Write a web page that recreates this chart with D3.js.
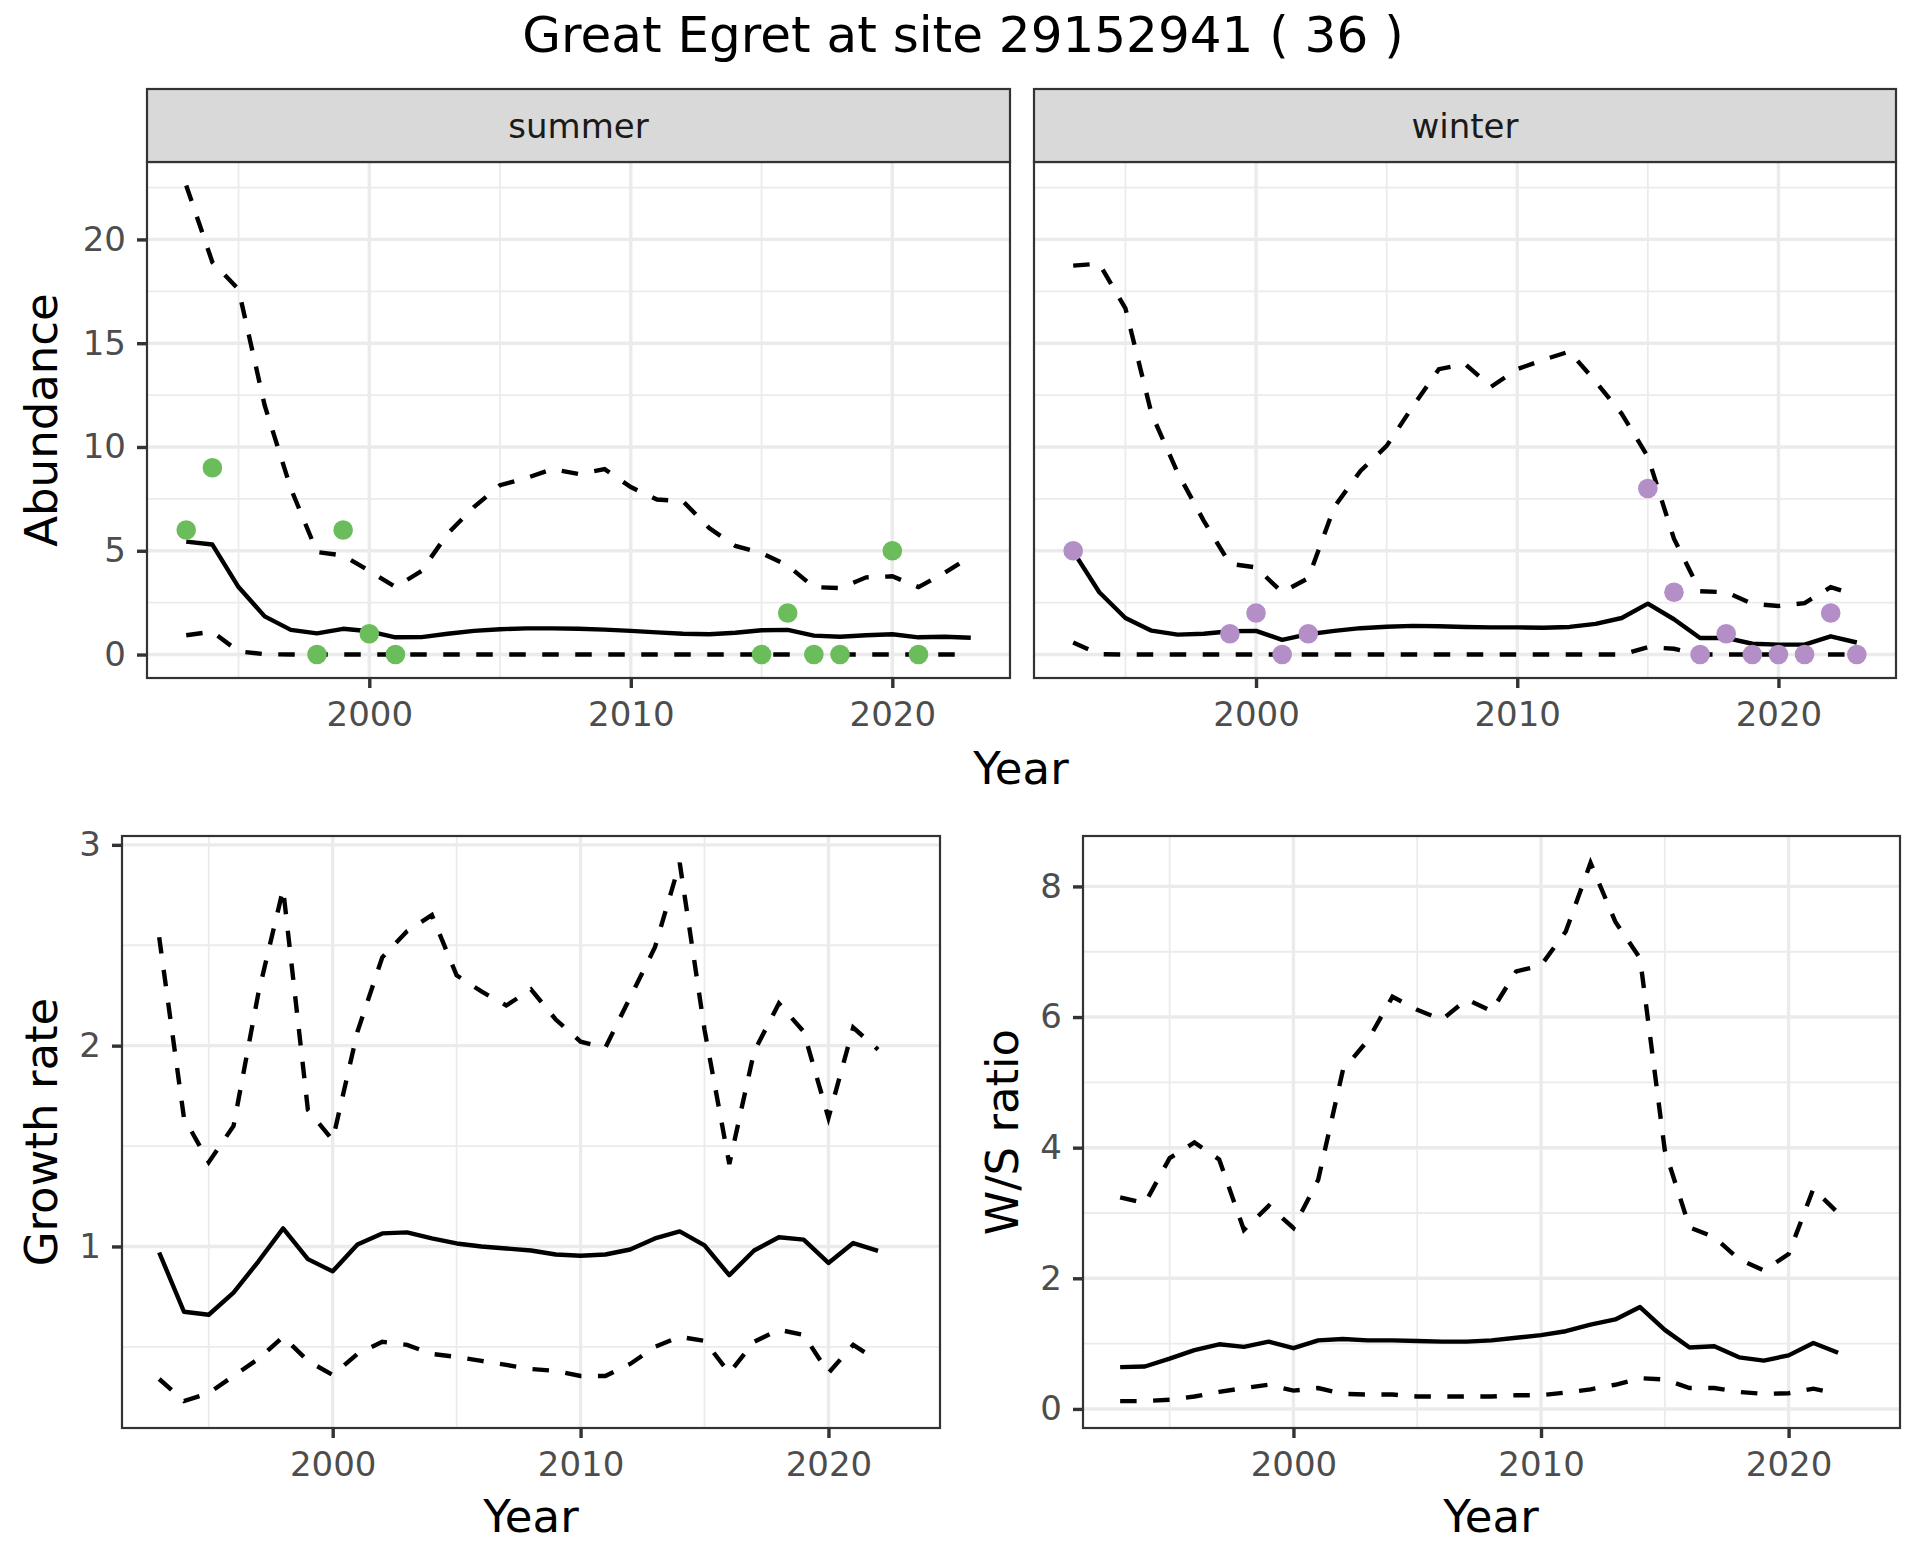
<!DOCTYPE html>
<html>
<head>
<meta charset="utf-8">
<script src="https://cdn.jsdelivr.net/npm/d3@7"></script>
<style>
  body { margin: 0; background: #fff; }
  text { font-family: "DejaVu Sans", sans-serif; }
</style>
</head>
<body>
<svg id="chart" width="1920" height="1560"></svg>
<script>
// ---- data ----
const years = [1993,1994,1995,1996,1997,1998,1999,2000,2001,2002,2003,2004,2005,2006,2007,2008,
               2009,2010,2011,2012,2013,2014,2015,2016,2017,2018,2019,2020,2021,2022,2023];

const summerMean = [5.44,5.30,3.25,1.84,1.19,1.02,1.24,1.12,0.83,0.84,1.00,1.14,1.22,1.26,1.26,1.24,
                    1.20,1.14,1.07,1.00,0.98,1.05,1.17,1.19,0.91,0.86,0.93,0.98,0.83,0.86,0.81];
const summerLow  = [0.93,1.10,0.15,0.02,0,0,0,0,0,0,0,0,0,0,0,0,0,0,0,0,0,0,0,0,0,0,0,0,0,0,0];
const summerHigh = [22.6,18.9,17.6,12.0,8.0,4.94,4.77,4.03,3.25,4.03,5.83,7.1,8.16,8.5,8.93,8.7,
                    8.93,8.07,7.47,7.38,6.09,5.23,4.89,4.29,3.25,3.2,3.72,3.77,3.25,3.94,4.72];
const summerObsYears = [1993,1994,1998,1999,2000,2001,2015,2016,2017,2018,2020,2021];
const summerObs      = [6,9,0,6,1,0,0,2,0,0,5,0];

const winterMean = [4.97,3.0,1.76,1.15,0.96,1.0,1.12,1.14,0.71,0.98,1.14,1.27,1.34,1.38,1.36,1.33,
                    1.31,1.31,1.29,1.33,1.48,1.76,2.45,1.7,0.8,0.8,0.52,0.48,0.48,0.88,0.58];
const winterLow  = [0.58,0.02,0,0,0,0,0,0,0,0,0,0,0,0,0,0,0,0,0,0,0,0,0.35,0.28,0,0,0,0,0,0,0];
const winterHigh = [18.74,18.83,16.68,11.6,8.76,6.44,4.37,4.2,3.0,3.68,7.12,8.85,10.05,11.95,13.75,14.0,
                    12.9,13.75,14.2,14.6,13.15,11.6,9.53,5.58,3.05,3.0,2.45,2.34,2.48,3.25,2.86];
const winterObsYears = [1993,1999,2000,2001,2002,2015,2016,2017,2018,2019,2020,2021,2022,2023];
const winterObs      = [5,1,2,0,1,8,3,0,1,0,0,0,2,0];

const rateYears = [1993,1994,1995,1996,1997,1998,1999,2000,2001,2002,2003,2004,2005,2006,2007,
                   2008,2009,2010,2011,2012,2013,2014,2015,2016,2017,2018,2019,2020,2021,2022];

const growthMean = [0.97,0.675,0.66,0.77,0.925,1.09,0.937,0.876,1.01,1.065,1.07,1.04,1.015,1.0,0.99,
                    0.98,0.96,0.954,0.96,0.985,1.04,1.075,1.005,0.857,0.98,1.046,1.034,0.918,1.017,0.978];
const growthLow  = [0.34,0.23,0.27,0.355,0.44,0.55,0.43,0.36,0.465,0.525,0.51,0.465,0.45,0.43,0.41,
                    0.39,0.38,0.355,0.355,0.415,0.5,0.55,0.53,0.37,0.525,0.585,0.56,0.37,0.51,0.43];
const growthHigh = [2.54,1.64,1.42,1.6,2.26,2.78,1.68,1.53,2.07,2.44,2.57,2.65,2.35,2.27,2.2,
                    2.28,2.13,2.02,1.99,2.24,2.49,2.91,2.08,1.41,1.97,2.21,2.07,1.64,2.09,1.98];

const wsMean = [0.64,0.65,0.77,0.9,0.99,0.95,1.03,0.93,1.05,1.07,1.05,1.05,1.04,1.03,1.03,
                1.05,1.09,1.13,1.19,1.29,1.37,1.56,1.21,0.94,0.96,0.79,0.74,0.82,1.01,0.86];
const wsLow  = [0.12,0.12,0.14,0.19,0.26,0.32,0.37,0.28,0.32,0.23,0.22,0.22,0.19,0.19,0.19,
                0.19,0.21,0.21,0.25,0.3,0.37,0.47,0.45,0.32,0.32,0.26,0.23,0.24,0.31,0.23];
const wsHigh = [3.24,3.15,3.84,4.08,3.82,2.74,3.11,2.77,3.51,5.19,5.64,6.31,6.11,5.96,6.27,
                6.09,6.7,6.79,7.31,8.36,7.46,6.9,3.96,2.78,2.63,2.29,2.12,2.37,3.37,3.0];

const yearTicks = [2000, 2010, 2020];
const yearMinor = [1995, 2005, 2015];
const abundanceTicks = [0, 5, 10, 15, 20];
const abundanceMinor = [2.5, 7.5, 12.5, 17.5, 22.5];
const growthTicks = [1, 2, 3];
const growthMinor = [0.5, 1.5, 2.5];
const wsTicks = [0, 2, 4, 6, 8];
const wsMinor = [1, 3, 5, 7];

const facets = ["summer", "winter"];
const GREEN = "#6bbd5b", PURPLE = "#b48fc7";

// ---- helpers ----
const svg = d3.select("#chart");
const TICK_FONT = 34, TITLE_FONT = 45, LINE_W = 4.4;

// ggplot style 5% expansion
function expand(vals) {
    const lo = d3.min(vals), hi = d3.max(vals);
    const p = (hi - lo) * 0.05;
    return [lo - p, hi + p];
}

function yearScale(x0, x1) {
    return d3.scaleLinear().domain([d3.min(years) - 1.5, d3.max(years) + 1.5]).range([x0, x1]);
}

// background, grid, axes for one panel
function drawPanel(box, x, y, yT, yM, showY) {
    const g = svg.append("g");
    g.append("rect")
        .attr("x", box.left).attr("y", box.top)
        .attr("width", box.right - box.left).attr("height", box.bottom - box.top)
        .attr("fill", "#fff");

    const grid = g.append("g").attr("stroke", "#ebebeb");
    grid.selectAll(".vminor").data(yearMinor).join("line")
        .attr("x1", d => x(d)).attr("x2", d => x(d))
        .attr("y1", box.top).attr("y2", box.bottom).attr("stroke-width", 1.8);
    grid.selectAll(".hminor").data(yM.filter(d => y(d) > box.top && y(d) < box.bottom)).join("line")
        .attr("x1", box.left).attr("x2", box.right)
        .attr("y1", d => y(d)).attr("y2", d => y(d)).attr("stroke-width", 1.8);
    grid.selectAll(".vmajor").data(yearTicks).join("line")
        .attr("x1", d => x(d)).attr("x2", d => x(d))
        .attr("y1", box.top).attr("y2", box.bottom).attr("stroke-width", 3.4);
    grid.selectAll(".hmajor").data(yT).join("line")
        .attr("x1", box.left).attr("x2", box.right)
        .attr("y1", d => y(d)).attr("y2", d => y(d)).attr("stroke-width", 3.4);

    const xAxis = d3.axisBottom(x).tickValues(yearTicks).tickFormat(d3.format("d"))
        .tickSize(10).tickPadding(14);
    const xg = svg.append("g").attr("transform", `translate(0,${box.bottom})`).call(xAxis);
    styleAxis(xg);

    if (showY) {
        const yAxis = d3.axisLeft(y).tickValues(yT).tickFormat(d3.format("~g"))
            .tickSize(10).tickPadding(11);
        const yg = svg.append("g").attr("transform", `translate(${box.left},0)`).call(yAxis);
        styleAxis(yg);
    }
    return g;
}

function styleAxis(sel) {
    sel.select(".domain").remove();
    sel.selectAll(".tick line").attr("stroke", "#333333").attr("stroke-width", 3.4);
    sel.selectAll(".tick text")
        .attr("fill", "#4d4d4d")
        .style("font-size", TICK_FONT + "px")
        .style("font-family", "DejaVu Sans");
}

function drawLines(g, x, y, xs, mean, low, high) {
    const line = d3.line().x((d, i) => x(xs[i])).y(d => y(d));
    [low, high].forEach(arr => {
        g.append("path").datum(arr).attr("d", line)
            .attr("fill", "none").attr("stroke", "#000")
            .attr("stroke-width", LINE_W).attr("stroke-dasharray", "16.5,16.5");
    });
    g.append("path").datum(mean).attr("d", line)
        .attr("fill", "none").attr("stroke", "#000")
        .attr("stroke-width", LINE_W).attr("stroke-linejoin", "round");
}

function drawBorder(box) {
    svg.append("rect")
        .attr("x", box.left).attr("y", box.top)
        .attr("width", box.right - box.left).attr("height", box.bottom - box.top)
        .attr("fill", "none").attr("stroke", "#333333").attr("stroke-width", 2.2);
}

function axisTitle(txt, x, y, rotate) {
    svg.append("text")
        .attr("transform", `translate(${x},${y})` + (rotate ? " rotate(-90)" : ""))
        .attr("text-anchor", "middle")
        .style("font-size", TITLE_FONT + "px")
        .attr("fill", "#000")
        .text(txt);
}

// ---- title ----
svg.append("text")
    .attr("x", 963).attr("y", 52)
    .attr("text-anchor", "middle")
    .style("font-size", "50px")
    .text("Great Egret at site 29152941 ( 36 )");

// ---- top row: abundance facets ----
const topY = d3.scaleLinear()
    .domain(expand(summerMean.concat(summerLow, summerHigh, summerObs, winterMean, winterLow, winterHigh, winterObs)))
    .range([678, 162]);

const facetBoxes = [
    {left: 147, right: 1010, top: 162, bottom: 678},
    {left: 1034, right: 1896, top: 162, bottom: 678}
];
const facetData = [
    {mean: summerMean, low: summerLow, high: summerHigh, obsYears: summerObsYears, obs: summerObs, col: GREEN},
    {mean: winterMean, low: winterLow, high: winterHigh, obsYears: winterObsYears, obs: winterObs, col: PURPLE}
];

facets.forEach((name, k) => {
    const box = facetBoxes[k], fd = facetData[k];
    const x = yearScale(box.left, box.right);
    const g = drawPanel(box, x, topY, abundanceTicks, abundanceMinor, k === 0);
    drawLines(g, x, topY, years, fd.mean, fd.low, fd.high);
    g.selectAll(".obs").data(fd.obs).join("circle")
        .attr("cx", (d, i) => x(fd.obsYears[i]))
        .attr("cy", d => topY(d))
        .attr("r", 9.8)
        .attr("fill", fd.col);
    drawBorder(box);

    // strip
    svg.append("rect")
        .attr("x", box.left).attr("y", 89)
        .attr("width", box.right - box.left).attr("height", box.top - 89)
        .attr("fill", "#d9d9d9").attr("stroke", "#333333").attr("stroke-width", 2.2);
    svg.append("text")
        .attr("x", (box.left + box.right) / 2).attr("y", 138)
        .attr("text-anchor", "middle")
        .attr("fill", "#1a1a1a")
        .style("font-size", "34px")
        .text(name);
});

axisTitle("Abundance", 57, 420, true);
axisTitle("Year", 1021, 784, false);

// ---- bottom left: growth rate ----
const glBox = {left: 122, right: 940, top: 836, bottom: 1428};
const gx = yearScale(glBox.left, glBox.right);
const gy = d3.scaleLinear().domain(expand(growthMean.concat(growthLow, growthHigh))).range([glBox.bottom, glBox.top]);
const gG = drawPanel(glBox, gx, gy, growthTicks, growthMinor, true);
drawLines(gG, gx, gy, rateYears, growthMean, growthLow, growthHigh);
drawBorder(glBox);
axisTitle("Growth rate", 57, 1132, true);
axisTitle("Year", 531, 1532, false);

// ---- bottom right: W/S ratio ----
const wsBox = {left: 1083, right: 1900, top: 836, bottom: 1428};
const wx = yearScale(wsBox.left, wsBox.right);
const wy = d3.scaleLinear().domain(expand(wsMean.concat(wsLow, wsHigh))).range([wsBox.bottom, wsBox.top]);
const wG = drawPanel(wsBox, wx, wy, wsTicks, wsMinor, true);
drawLines(wG, wx, wy, rateYears, wsMean, wsLow, wsHigh);
drawBorder(wsBox);
axisTitle("W/S ratio", 1018, 1132, true);
axisTitle("Year", 1491, 1532, false);
</script>
</body>
</html>
